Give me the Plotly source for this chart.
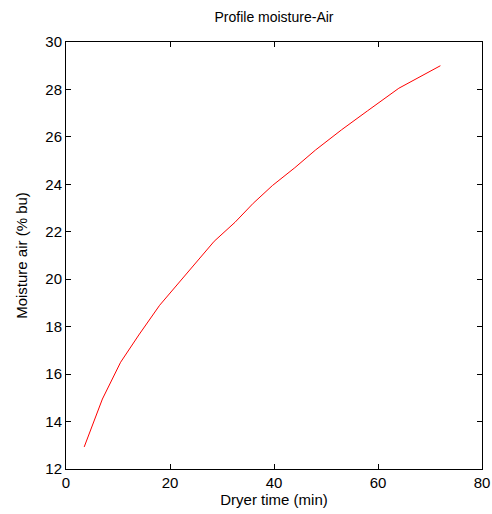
import plotly.graph_objects as go

time_min = [3.5, 7, 10.5, 14, 18, 21.5, 25, 28.5, 32.5, 36, 39.7, 44, 48, 53, 58, 64, 72]
moisture = [12.93, 14.95, 16.5, 17.65, 18.9, 19.8, 20.7, 21.6, 22.4, 23.2, 23.95, 24.7, 25.45, 26.3, 27.1, 28.05, 29.0]

fig = go.Figure()
fig.add_trace(go.Scatter(x=time_min, y=moisture, mode="lines",
                         line=dict(color="#ff0000", width=1), showlegend=False))

font = dict(family="Liberation Sans, Arial, sans-serif", color="black")
axis_common = dict(showgrid=False, zeroline=False, showline=True, linecolor="black",
                   linewidth=1, mirror="ticks", ticks="inside", ticklen=5,
                   tickcolor="black", tickfont=dict(size=15, **font), automargin=False)
fig.update_layout(
    width=492, height=514,
    margin=dict(l=66, r=10, t=42, b=45),
    paper_bgcolor="white", plot_bgcolor="white",
    title=dict(text="Profile moisture-Air", x=0.5, xref="paper", y=1 - 17/514,
               yanchor="middle", font=dict(size=14, **font)),
    xaxis=dict(range=[0, 80], tickvals=[0, 20, 40, 60, 80],
               title=dict(text="Dryer time (min)", font=dict(size=15, **font), standoff=4),
               **axis_common),
    yaxis=dict(range=[12, 30], tickvals=list(range(12, 31, 2)),
               title=dict(text="Moisture air (% bu)", font=dict(size=15, **font), standoff=14),
               **axis_common),
)
fig.write_html("out.html")
